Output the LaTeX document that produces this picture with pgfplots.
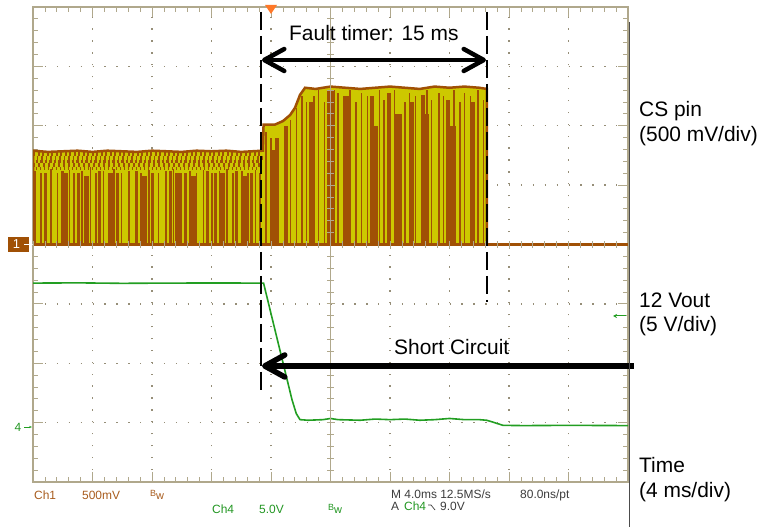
\documentclass[border=0pt]{standalone}
\usepackage{pgfplots}
\pgfplotsset{compat=1.18}
\usepackage{fontspec}
\setmainfont{Liberation Sans}
\usetikzlibrary{arrows.meta}
\definecolor{frame}{RGB}{176,168,140}
\definecolor{griddot}{RGB}{150,142,120}
\definecolor{chy}{RGB}{205,200,0}
\definecolor{chb}{RGB}{160,80,5}
\definecolor{chbt}{RGB}{168,92,30}
\definecolor{chg}{RGB}{34,158,34}
\definecolor{chgt}{RGB}{34,150,34}
\definecolor{readout}{RGB}{60,60,60}
\definecolor{trig}{RGB}{255,120,40}

% Ch1 (CS pin) envelope: time [ms], volts
\pgfplotstableread{
t v
0 0
0 0.79
1 0.78
2 0.785
3 0.79
4 0.78
5 0.79
6 0.785
7 0.78
8 0.79
9 0.785
10 0.78
11 0.79
12 0.785
13 0.79
14 0.78
15.45 0.79
15.5 1.01
16.27 1.01
16.81 1.04
17.28 1.09
17.61 1.15
17.95 1.26
18.29 1.32
19 1.31
20 1.33
21 1.32
22 1.31
23 1.32
24 1.33
25 1.32
26 1.31
27 1.33
28 1.32
29 1.33
30 1.32
30.52 1.31
30.52 0
}\chone

% Ch4 (12 Vout): time [ms], volts
\pgfplotstableread{
t v
0 12.0
3 12.02
6 11.98
9 12.0
12 12.01
15.5 12.0
17.41 2.19
17.7 1.01
17.95 0.5
18.5 0.45
19.5 0.5
20 0.6
20.5 0.5
22 0.45
23 0.55
24 0.5
25 0.55
26 0.45
27 0.5
28 0.6
29 0.5
30 0.5
30.5 0.45
30.9 0.3
31.6 0.02
33 0.0
36 0.02
40 0.0
}\chfour

\begin{document}
\begin{tikzpicture}
\path[use as bounding box] (0,0) rectangle (760bp,527bp);

\begin{axis}[
  at={(33bp,45bp)}, anchor=south west, scale only axis,
  width=595bp, height=475bp,
  xmin=0, xmax=40, ymin=-4, ymax=4,
  xtick={0,4,...,40}, ytick={-4,-3,...,4},
  minor x tick num=4, minor y tick num=4,
  xticklabels={}, yticklabels={},
  tick align=inside, xtick pos=both, ytick pos=both,
  major tick length=10bp, minor tick length=5bp,
  tick style={frame, line width=0.8bp},
  axis line style={frame, line width=1.2bp},
  grid=major,
  major grid style={griddot, line width=1.3bp, dash pattern=on 1.3bp off 10.6bp},
]
% Ch1 filled envelope
\addplot[fill=chy, draw=none, y filter/.expression={2*y}] table[x=t,y=v] {\chone} \closedcycle;
% Ch1 brown stripes, left part
\addplot[ycomb, chb, line width=1.5bp, y filter/.expression={2*y}] coordinates {
(0.15,0.62)(0.55,0.6)(1.2,0.64)(1.65,0.6)(2.45,0.63)(2.75,0.6)(3.3,0.62)(3.85,0.65)
(4.25,0.6)(4.75,0.62)(5.45,0.64)(5.95,0.6)(6.45,0.62)(7.25,0.6)(7.8,0.63)(8.45,0.6)
(8.95,0.62)(9.45,0.64)(9.95,0.6)(10.55,0.62)(11.0,0.6)(11.45,0.63)(12.05,0.6)
(12.55,0.62)(13.05,0.64)(13.45,0.6)(14.05,0.62)(14.45,0.6)(14.95,0.63)(15.25,0.6)};
\addplot[ycomb, chb, line width=3bp, y filter/.expression={2*y}] coordinates {
(0.85,0.6)(1.95,0.62)(3.05,0.6)(4.5,0.62)(5.7,0.6)(6.95,0.62)(8.05,0.6)
(9.25,0.62)(10.25,0.6)(11.7,0.62)(12.3,0.6)(13.7,0.62)(14.7,0.6)};
\addplot[ycomb, chb, line width=5bp, y filter/.expression={2*y}] coordinates {
(2.2,0.6)(3.6,0.58)(5.2,0.6)(7.5,0.58)(9.7,0.6)(10.8,0.58)(12.75,0.6)(14.2,0.58)};
% Ch1 brown stripes, right part
\addplot[ycomb, chb, line width=1.5bp, y filter/.expression={2*y}] coordinates {
(15.65,0.95)(16.0,0.9)(16.9,1.0)(17.3,1.05)(17.7,1.15)(18.1,1.25)(18.4,1.2)(18.9,1.25)
(19.2,1.3)(19.6,1.2)(20.5,1.28)(20.9,1.25)(21.3,1.3)(21.7,1.2)(22.1,1.28)(22.5,1.25)
(23.3,1.3)(23.6,1.22)(24.0,1.28)(24.3,1.3)(25.0,1.2)(25.3,1.28)(25.7,1.25)(26.5,1.3)
(26.8,1.22)(27.3,1.28)(27.6,1.25)(28.3,1.3)(28.7,1.2)(29.0,1.28)(29.4,1.25)(29.9,1.3)(30.3,1.22)};
\addplot[ycomb, chb, line width=4bp, y filter/.expression={2*y}] coordinates {
(16.4,0.9)(17.0,1.0)(18.7,1.2)(19.9,1.3)(21.1,1.25)(22.8,1.25)(23.9,1.28)
(25.5,1.2)(26.2,1.26)(27.9,1.22)(29.6,1.2)};
\addplot[ycomb, chb, line width=7bp, y filter/.expression={2*y}] coordinates {
(16.25,0.8)(20.1,1.3)(22.95,1.0)(24.6,1.1)(26.4,1.1)(28.2,1.0)};
% Ch1 mottled top band (left part)
\addplot[chb, line width=3.6bp, dash pattern=on 2bp off 2.5bp, y filter/.expression={2*y}] coordinates {(0,0.76)(15.4,0.76)};
\addplot[chb, line width=3.6bp, dash pattern=on 1.5bp off 3bp, dash phase=1bp, y filter/.expression={2*y}] coordinates {(0,0.73)(15.4,0.73)};
\addplot[chb, line width=3.6bp, dash pattern=on 2.5bp off 2bp, dash phase=2bp, y filter/.expression={2*y}] coordinates {(0,0.70)(15.4,0.70)};
\addplot[chb, line width=3.6bp, dash pattern=on 1.5bp off 3.5bp, y filter/.expression={2*y}] coordinates {(0,0.67)(15.4,0.67)};
\addplot[chb, line width=3.6bp, dash pattern=on 1bp off 3bp, dash phase=1.5bp, y filter/.expression={2*y}] coordinates {(0,0.64)(15.4,0.64)};
% Ch1 outline and baseline
\addplot[chb, line width=2.5bp, y filter/.expression={2*y}] table[x=t,y=v] {\chone};
\addplot[chb, line width=2.2bp] coordinates {(0,0) (40,0)};
% Ch4
\addplot[chg, line width=1.6bp, y filter/.expression={y/5-3.05}] table[x=t,y=v] {\chfour};
\end{axis}

% centre cross with its tick marks
\begin{axis}[
  at={(33bp,45bp)}, anchor=south west, scale only axis,
  width=595bp, height=475bp,
  xmin=-20, xmax=20, ymin=-4, ymax=4,
  axis lines=middle,
  axis line style={-},
  x axis line style={draw=none},
  y axis line style={frame, line width=0.9bp},
  xtick={-20,-16,...,20}, ytick={-4,-3,...,4},
  minor x tick num=4, minor y tick num=4,
  xticklabels={}, yticklabels={},
  tick align=center, major tick length=8bp, minor tick length=7bp,
  tick style={frame, line width=0.8bp},
]
\end{axis}

% annotations
\draw[black, line width=1.1bp, dash pattern=on 18bp off 6bp] (261bp,515bp) -- (261bp,137bp);
\draw[black, line width=1.1bp, dash pattern=on 18bp off 6bp] (487bp,515bp) -- (487bp,225bp);
\draw[line width=4.5bp, {Straight Barb[length=20bp,width=22bp,round]}-{Straight Barb[length=20bp,width=22bp,round]}] (262bp,467bp) -- (486bp,467bp);
\draw[line width=5.5bp, {Straight Barb[length=20bp,width=22bp,round]}-] (262bp,161bp) -- (634bp,161bp);
\fill[trig] (265bp,522bp) -- (277bp,522bp) -- (271bp,513bp) -- cycle;
\draw[line width=1.5bp, black!70] (629.5bp,505bp) -- (629.5bp,0bp);

% channel markers
\fill[chb] (8bp,275bp) rectangle (29bp,290bp);
\node[white, font=\fontsize{13}{13}\selectfont] at (16.5bp,282.5bp) {1};
\draw[white, line width=0.8bp, -{Stealth[length=3bp]}] (24bp,282.5bp) -- (33bp,282.5bp);
\node[chgt, font=\fontsize{12}{12}\selectfont] at (18bp,100bp) {4};
\draw[chg, line width=0.8bp, -{Stealth[length=3bp]}] (24bp,100bp) -- (32bp,100bp);
\draw[chg, line width=1bp, -{Stealth[length=4bp,width=4bp]}] (626bp,211bp) -- (613bp,211bp);

% big labels
\begin{scope}[every node/.style={anchor=base west, inner sep=0pt, font=\fontsize{21}{25}\selectfont}]
\node at (289bp,486bp) {Fault timer: 15 ms};
\node at (394bp,172bp) {Short Circuit};
\node at (639bp,410bp) {CS pin};
\node at (639bp,385bp) {(500 mV/div)};
\node at (639bp,219bp) {12 Vout};
\node at (639bp,195bp) {(5 V/div)};
\node at (639bp,54bp) {Time};
\node at (639bp,30bp) {(4 ms/div)};
\end{scope}

% scope readout
\begin{scope}[every node/.style={anchor=base west, inner sep=0pt, font=\fontsize{12}{14}\selectfont}]
\node[chbt] at (34bp,28bp) {Ch1};
\node[chbt] at (82bp,28bp) {500mV};
\node[chbt, font=\fontsize{9}{10}\selectfont] at (150bp,31bp) {B};
\node[chbt, font=\fontsize{11}{12}\selectfont] at (156bp,28bp) {w};
\node[chgt] at (212bp,14bp) {Ch4};
\node[chgt] at (259bp,14bp) {5.0V};
\node[chgt, font=\fontsize{9}{10}\selectfont] at (328bp,17bp) {B};
\node[chgt, font=\fontsize{11}{12}\selectfont] at (334bp,14bp) {w};
\node[readout] at (391bp,29bp) {M 4.0ms 12.5MS/s};
\node[readout] at (520bp,29bp) {80.0ns/pt};
\node[readout] at (391bp,17bp) {A};
\node[chgt] at (404bp,17bp) {Ch4};
\node[readout] at (440bp,17bp) {9.0V};
\end{scope}
\draw[readout, line width=0.7bp] (428bp,22bp) -- (431bp,22bp) -- (435bp,17bp);
\end{tikzpicture}
\end{document}
